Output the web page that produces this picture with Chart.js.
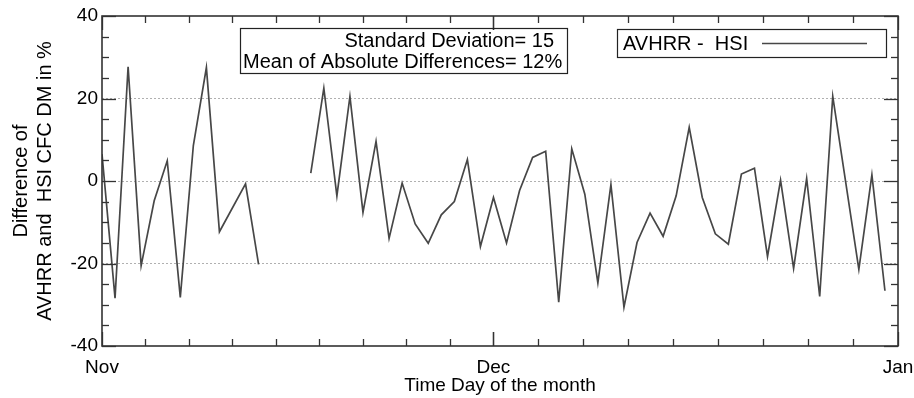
<!DOCTYPE html>
<html>
<head>
<meta charset="utf-8">
<script src="https://cdn.jsdelivr.net/npm/chart.js@4"></script>
<style>
  html, body { margin: 0; padding: 0; background: #fff; }
</style>
</head>
<body>
<canvas id="grafico" width="914" height="398"></canvas>
<script>
// days since 1 Nov, only days that have a value (missing days are left out)
const dias = [0, 1, 2, 3, 4, 5, 6, 7, 8, 9, 11, 12,
  16, 17, 18, 19, 20, 21, 22, 23, 24, 25, 26, 27, 28, 29,
  30, 31, 32, 33, 34, 35, 36, 37, 38, 39, 40, 41, 42, 43, 44, 45,
  46, 47, 48, 49, 50, 51, 52, 53, 54, 55, 56, 58, 59, 60]
const difs = [6.5, -28.4, 27.7, -20.5, -4.8, 4.9, -28.2, 8.6, 27.5, -12.3, -0.7, -20.2,
  1.9, 22.5, -3.6, 20.5, -7.6, 9.6, -13.9, -0.5, -10.4, -15.1, -8.2, -5.0, 5.2, -15.9,
  -4.0, -15.0, -2.3, 5.7, 7.2, -29.4, 7.8, -3.2, -24.7, -0.9, -30.6, -14.9, -7.8, -13.4, -3.6, 13.0,
  -4.0, -12.8, -15.3, 1.7, 3.1, -18.3, 0.2, -21.2, 0.6, -28.0, 20.5, -21.4, 1.5, -26.6]

const mesTicks = [0, 30, 61]
const mesLabels = ['Nov', 'Dec', 'Jan']
const yMin = -40
const yMax = 40
const yPasso = 20
const serieNome = 'AVHRR -  HSI'
const estatLinhas = ['Standard Deviation= 15', 'Mean of Absolute Differences= 12%']
const yTitulo = ['Difference of', 'AVHRR and  HSI CFC DM in %']
const xTitulo = 'Time Day of the month'

const fonte = '"Liberation Sans", Arial, Helvetica, sans-serif'
const corLinha = '#474747'

// frame, inward ticks, stats box and legend box
const moldura = {
  id: 'moldura',
  afterDraw(chart) {
    const ctx = chart.ctx
    const a = chart.chartArea
    const x = chart.scales.x
    const y = chart.scales.y

    function traco(x1, y1, x2, y2) {
      ctx.beginPath()
      ctx.moveTo(x1, y1)
      ctx.lineTo(x2, y2)
      ctx.stroke()
    }

    ctx.save()
    ctx.strokeStyle = '#333'
    ctx.lineWidth = 1.3

    // x ticks: each month split in 9
    for (let m = 0; m < mesTicks.length - 1; m++) {
      const ini = mesTicks[m]
      const fim = mesTicks[m + 1]
      for (let k = 0; k <= 9; k++) {
        const px = Math.round(x.getPixelForValue(ini + (fim - ini) * k / 9)) + 0.5
        const len = (k === 0 || k === 9) ? 14 : 7
        traco(px, a.bottom, px, a.bottom - len)
        traco(px, a.top, px, a.top + len)
      }
    }
    // y ticks every 5
    for (let v = yMin; v <= yMax; v += 5) {
      const py = Math.round(y.getPixelForValue(v)) + 0.5
      const len = v % yPasso === 0 ? 14 : 7
      traco(a.left, py, a.left + len, py)
      traco(a.right, py, a.right - len, py)
    }

    ctx.lineWidth = 1.6
    ctx.strokeRect(a.left, a.top, a.right - a.left, a.bottom - a.top)

    // stats box
    ctx.lineWidth = 1.2
    ctx.strokeStyle = '#222'
    ctx.strokeRect(240.5, 28.5, 327, 45)
    ctx.fillStyle = '#000'
    ctx.font = '20px ' + fonte
    ctx.textBaseline = 'middle'
    ctx.textAlign = 'right'
    ctx.fillText(estatLinhas[0], 554, 41)
    ctx.textAlign = 'left'
    ctx.fillText(estatLinhas[1], 243, 62)

    // legend box
    ctx.strokeRect(617.5, 29.5, 269, 28)
    ctx.fillText(serieNome, 623, 44)
    ctx.strokeStyle = corLinha
    ctx.lineWidth = 1.4
    traco(762, 43.5, 867, 43.5)

    ctx.restore()
  }
}

const pontos = dias.map((d, i) => ({ x: d, y: difs[i] }))

const grafico = new Chart(document.getElementById('grafico'), {
  type: 'line',
  data: {
    datasets: [{
      label: serieNome,
      data: pontos,
      borderColor: corLinha,
      borderWidth: 1.7,
      pointRadius: 0,
      tension: 0,
      fill: false,
      spanGaps: 2.5
    }]
  },
  options: {
    responsive: false,
    animation: false,
    devicePixelRatio: 1,
    layout: { padding: { top: 16, right: 16, left: 0, bottom: 0 } },
    plugins: { legend: { display: false }, tooltip: { enabled: false } },
    scales: {
      x: {
        type: 'linear',
        min: mesTicks[0],
        max: mesTicks[mesTicks.length - 1],
        afterBuildTicks(scale) {
          scale.ticks = mesTicks.map(v => ({ value: v }))
        },
        afterFit(scale) {
          scale.height = 52
          scale.paddingLeft = 0
          scale.paddingRight = 0
        },
        grid: { display: false, drawTicks: false },
        border: { display: false },
        ticks: {
          autoSkip: false,
          maxRotation: 0,
          padding: 10,
          color: '#000',
          font: { family: fonte, size: 19 },
          callback: (v, i) => mesLabels[i]
        },
        title: {
          display: true,
          text: xTitulo,
          color: '#000',
          font: { family: fonte, size: 19, lineHeight: 1.15 },
          padding: { top: 0, bottom: 1 }
        }
      },
      y: {
        min: yMin,
        max: yMax,
        afterFit(scale) { scale.width = 102 },
        grid: {
          drawTicks: false,
          lineWidth: 1,
          color: c => (c.tick.value === yMin || c.tick.value === yMax) ? 'rgba(0,0,0,0)' : '#b0b0b0'
        },
        border: { display: false, dash: [2, 2] },
        ticks: {
          stepSize: yPasso,
          padding: 4,
          color: '#000',
          font: { family: fonte, size: 19 }
        },
        title: {
          display: true,
          text: yTitulo,
          color: '#000',
          font: { family: fonte, size: 20, lineHeight: 1.2 },
          padding: { top: 9, bottom: 0 }
        }
      }
    }
  },
  plugins: [moldura]
})
</script>
</body>
</html>
